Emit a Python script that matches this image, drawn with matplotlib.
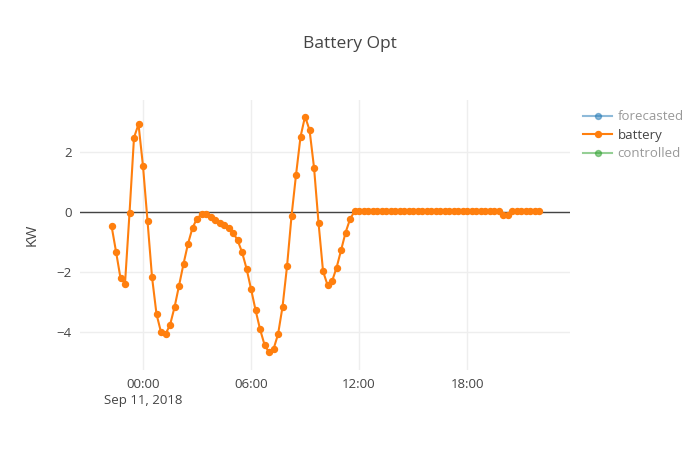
import matplotlib
matplotlib.use('Agg')
import matplotlib.pyplot as plt
import matplotlib.dates as mdates
from matplotlib.lines import Line2D
import pandas as pd

plt.rcParams['font.family'] = ['Open Sans', 'DejaVu Sans']

# battery power (KW), 15-minute steps starting 2018-09-10 22:15
battery = [
    -0.46, -1.32, -2.21, -2.39, -0.04, 2.48, 2.92, 1.52, -0.30, -2.17,
    -3.41, -4.01, -4.07, -3.77, -3.18, -2.46, -1.73, -1.06, -0.53, -0.22,
    -0.08, -0.08, -0.16, -0.27, -0.38, -0.43, -0.52, -0.69, -0.94, -1.34,
    -1.89, -2.57, -3.27, -3.91, -4.43, -4.68, -4.57, -4.08, -3.16, -1.81,
    -0.13, 1.24, 2.51, 3.18, 2.73, 1.47, -0.37, -1.98, -2.44, -2.31,
    -1.86, -1.28, -0.69, -0.24, 0.02, 0.02, 0.02, 0.02, 0.02, 0.02,
    0.02, 0.02, 0.02, 0.02, 0.02, 0.02, 0.02, 0.02, 0.02, 0.02,
    0.02, 0.02, 0.02, 0.02, 0.02, 0.02, 0.02, 0.02, 0.02, 0.02,
    0.02, 0.02, 0.02, 0.02, 0.02, 0.02, 0.02, -0.10, -0.10, 0.02,
    0.02, 0.02, 0.02, 0.02, 0.02, 0.02,
]
times = pd.date_range('2018-09-10 22:15', periods=len(battery), freq='15min')

tick_times = pd.to_datetime(['2018-09-11 00:00', '2018-09-11 06:00',
                             '2018-09-11 12:00', '2018-09-11 18:00'])
tick_labels = ['00:00\nSep 11, 2018', '06:00', '12:00', '18:00']
yticks = [-4, -2, 0, 2]

fig = plt.figure(figsize=(7, 4.5), dpi=100)
ax = fig.add_axes([80 / 700, 80 / 450, 490 / 700, 270 / 450])

ax.plot(times, battery, color='#ff7f0e', linewidth=1.5, marker='o',
        markersize=4.3, zorder=3)
ax.axhline(0, color='#444444', linewidth=1, zorder=2)

ax.set_xlim(pd.Timestamp('2018-09-10 20:30'), pd.Timestamp('2018-09-11 23:43'))
ax.set_ylim(-5.27, 3.73)
ax.set_xticks(mdates.date2num(tick_times))
ax.set_xticklabels(tick_labels, linespacing=1.3)
ax.set_yticks(yticks)
ax.grid(True, color='#eeeeee', linewidth=1)
ax.set_axisbelow(True)
for s in ax.spines.values():
    s.set_visible(False)
ax.tick_params(length=0, colors='#444444', labelsize=9.5, pad=6)
ax.set_ylabel('KW', color='#444444', fontsize=10.5, labelpad=12)

fig.text(0.5, 1 - 44 / 450, 'Battery Opt', ha='center', va='center',
         fontsize=12.5, color='#444444')

handles = [
    Line2D([], [], color='#1f77b4', alpha=0.5, marker='o', markersize=4.3, linewidth=1.5),
    Line2D([], [], color='#ff7f0e', marker='o', markersize=4.3, linewidth=1.5),
    Line2D([], [], color='#2ca02c', alpha=0.5, marker='o', markersize=4.3, linewidth=1.5),
]
leg = fig.legend(handles, ['forecasted', 'battery', 'controlled'],
                 loc='upper left', bbox_to_anchor=(578 / 700, 1 - 105 / 450),
                 frameon=False, fontsize=9.5, handlelength=2.2,
                 handletextpad=0.4, labelspacing=0.42, borderaxespad=0)
for t, c in zip(leg.get_texts(), ['#999999', '#444444', '#999999']):
    t.set_color(c)

fig.savefig('out.png', dpi=100)
